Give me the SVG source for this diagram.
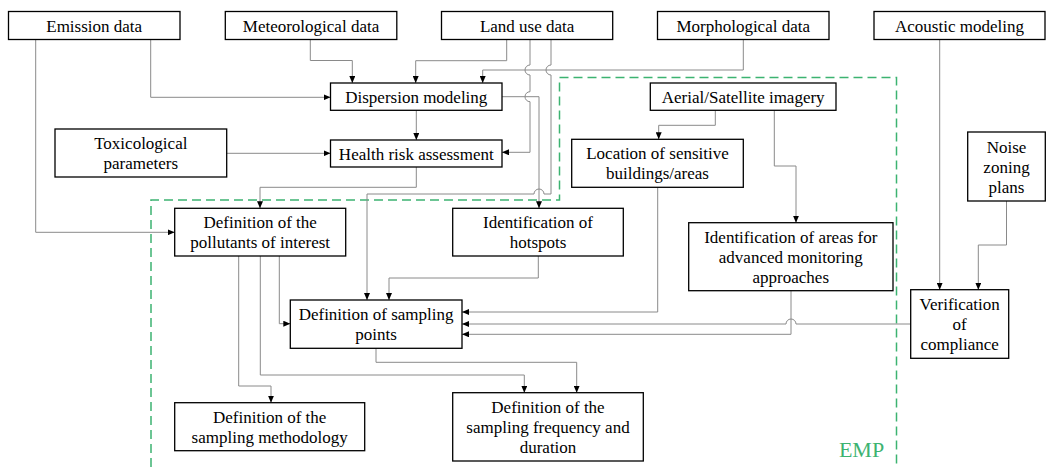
<svg xmlns="http://www.w3.org/2000/svg" width="1051" height="467" viewBox="0 0 1051 467">
<style>
.box{fill:#fff;stroke:#000;stroke-width:1.3}
.t{font-size:17px;fill:#000;text-anchor:middle}
.c{fill:none;stroke:#8a8a8a;stroke-width:1}
.a{marker-end:url(#ah)}
.emp{fill:none;stroke:#3cb371;stroke-width:1.5;stroke-dasharray:9 5}
</style>
<defs>
<marker id="ah" markerUnits="userSpaceOnUse" markerWidth="8" markerHeight="6" refX="7" refY="3" orient="auto">
<path d="M0,0 L7,3 L0,6 z" fill="#000"/>
</marker>
</defs>
<rect width="1051" height="467" fill="#fff"/>
<g id="emp-region">
<path class="emp" d="M151,467 V200 H559.5 V77.5 H896.5 V467"/>
<text x="861.5" y="457" font-family="Liberation Serif, Times New Roman, serif" font-size="22" fill="#3cb371" text-anchor="middle">EMP</text>
</g>
<g id="connectors">
<path class="c a" d="M150.7,39.5 V97.3 H330.5"/>
<path class="c a" d="M35.7,39.5 V232.3 H174.7"/>
<path class="c a" d="M310.3,39.5 V60.5 H352.3 V83"/>
<path class="c a" d="M506.7,39.5 V60.7 H415.7 V83"/>
<path class="c a" d="M530,39.5 V65 a5,5 0 0 0 0,10 V91.7 a5,5 0 0 0 0,10 V152.3 H502"/>
<path class="c a" d="M551,39.5 V65 a5,5 0 0 0 0,10 V194 H544 a5,5 0 0 0 -10,0 H367 V300"/>
<path class="c a" d="M743.3,39.5 V70 H482.7 V83"/>
<path class="c a" d="M502,96.7 H539 V208.3"/>
<path class="c a" d="M416.3,110.3 V140"/>
<path class="c a" d="M226.7,153.3 H330.5"/>
<path class="c a" d="M416.3,167 V187.3 H260 V208.3"/>
<path class="c a" d="M715.3,110.3 V125.3 H658.7 V139.3"/>
<path class="c a" d="M774.3,110.3 V166 H796 V222.7"/>
<path class="c a" d="M657.7,187.3 V312 H462"/>
<path class="c a" d="M538.3,256 V278 H389 V300"/>
<path class="c a" d="M791,290.7 V334.3 H462"/>
<path class="c a" d="M910.7,324 H796 a5,5 0 0 0 -10,0 H462"/>
<path class="c a" d="M939.7,39.5 V289.7"/>
<path class="c a" d="M1006.5,201 V245 H978.3 V289.7"/>
<path class="c a" d="M279.3,256 V323.7 H290.3"/>
<path class="c a" d="M238.7,256 V386 H271 V402.7"/>
<path class="c a" d="M260.3,256 V375 H524.3 V392.7"/>
<path class="c a" d="M376,348.3 V362.3 H576.7 V392.7"/>
</g>
<g font-family="Liberation Serif, Times New Roman, serif">
<g id="emission"><rect class="box" x="8.5" y="11.5" width="171.5" height="28"/><text class="t" x="94.2" y="31.5">Emission data</text></g>
<g id="meteorological"><rect class="box" x="225.3" y="11.5" width="171.5" height="28"/><text class="t" x="311" y="31.5">Meteorological data</text></g>
<g id="landuse"><rect class="box" x="441.5" y="11.5" width="171.2" height="28"/><text class="t" x="527.1" y="31.5">Land use data</text></g>
<g id="morphological"><rect class="box" x="657.5" y="11.5" width="171.5" height="28"/><text class="t" x="743.2" y="31.5">Morphological data</text></g>
<g id="acoustic"><rect class="box" x="874" y="11.5" width="171" height="28"/><text class="t" x="959.5" y="31.5">Acoustic modeling</text></g>
<g id="dispersion"><rect class="box" x="330.5" y="83" width="171.5" height="27.3"/><text class="t" x="416.3" y="102.7">Dispersion modeling</text></g>
<g id="health"><rect class="box" x="330.5" y="140" width="171.5" height="27"/><text class="t" x="416.3" y="159.5">Health risk assessment</text></g>
<g id="toxicological"><rect class="box" x="55" y="129" width="171.7" height="48"/><text class="t" x="140.8" y="149">Toxicological</text><text class="t" x="140.8" y="169">parameters</text></g>
<g id="aerial"><rect class="box" x="650.3" y="83" width="185.7" height="27.3"/><text class="t" x="743.2" y="102.7">Aerial/Satellite imagery</text></g>
<g id="location"><rect class="box" x="571.7" y="139.3" width="171.6" height="48"/><text class="t" x="657.5" y="159.3">Location of sensitive</text><text class="t" x="657.5" y="179.3">buildings/areas</text></g>
<g id="noise"><rect class="box" x="967.7" y="132" width="77.6" height="69"/><text class="t" x="1006.5" y="152.5">Noise</text><text class="t" x="1006.5" y="172.5">zoning</text><text class="t" x="1006.5" y="192.5">plans</text></g>
<g id="pollutants"><rect class="box" x="174.7" y="208.3" width="171" height="47.7"/><text class="t" x="260.2" y="228.2">Definition of the</text><text class="t" x="260.2" y="248.2">pollutants of interest</text></g>
<g id="hotspots"><rect class="box" x="452.7" y="208.3" width="170.6" height="47.7"/><text class="t" x="538" y="228.2">Identification of</text><text class="t" x="538" y="248.2">hotspots</text></g>
<g id="advanced"><rect class="box" x="688.7" y="222.7" width="204.3" height="68"/><text class="t" x="790.8" y="242.7">Identification of areas for</text><text class="t" x="790.8" y="262.7">advanced monitoring</text><text class="t" x="790.8" y="282.7">approaches</text></g>
<g id="verification"><rect class="box" x="910.7" y="289.7" width="98" height="68.6"/><text class="t" x="959.7" y="310">Verification</text><text class="t" x="959.7" y="330">of</text><text class="t" x="959.7" y="350">compliance</text></g>
<g id="sampling-points"><rect class="box" x="290.3" y="300" width="171.7" height="48.3"/><text class="t" x="376.1" y="320.2">Definition of sampling</text><text class="t" x="376.1" y="340.2">points</text></g>
<g id="methodology"><rect class="box" x="174.7" y="402.7" width="190" height="48"/><text class="t" x="269.7" y="422.7">Definition of the</text><text class="t" x="269.7" y="442.7">sampling methodology</text></g>
<g id="frequency"><rect class="box" x="452.7" y="392.7" width="190.6" height="68.3"/><text class="t" x="548" y="412.9">Definition of the</text><text class="t" x="548" y="432.9">sampling frequency and</text><text class="t" x="548" y="452.9">duration</text></g>
</g>
</svg>
